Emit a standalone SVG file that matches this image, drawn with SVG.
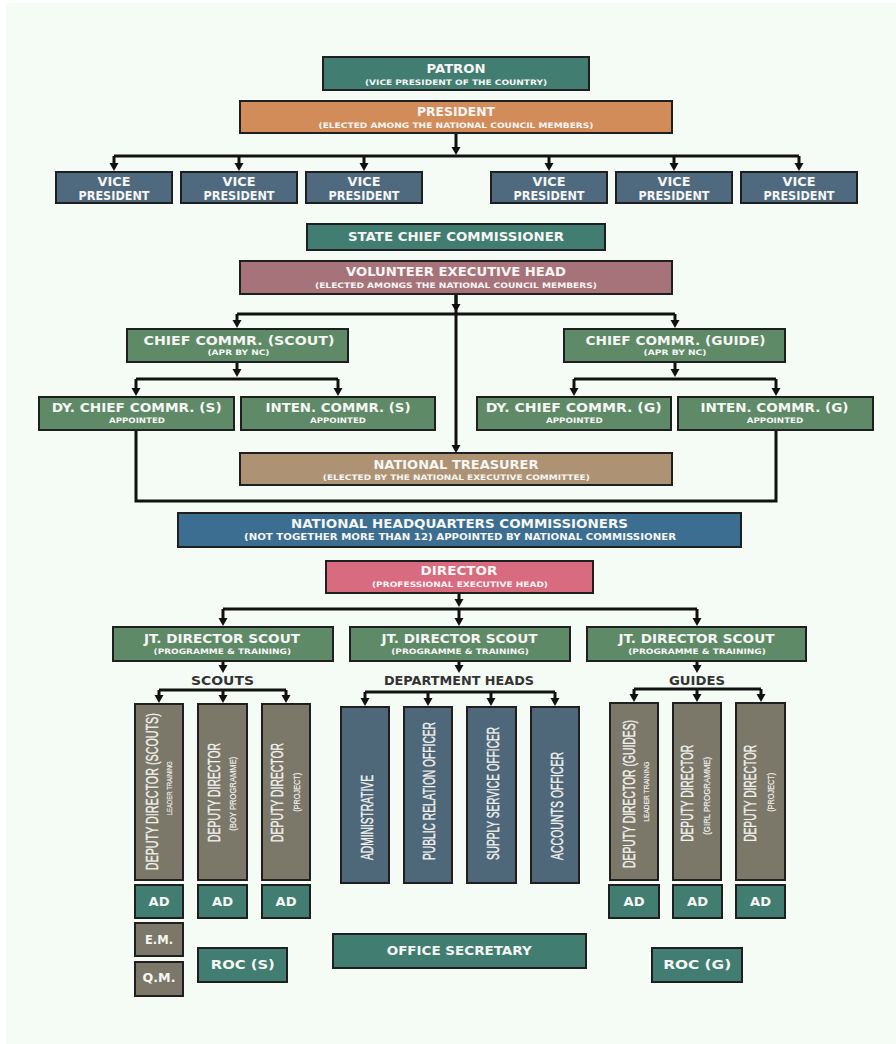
<svg xmlns="http://www.w3.org/2000/svg" width="896" height="1044" viewBox="0 0 896 1044">
<style>
.bx{stroke:#1f1f1f;stroke-width:2}
.teal{fill:#417e71}.orange{fill:#d18c5a}.slate{fill:#4f6a7f}.rose{fill:#a7737a}.green{fill:#5f8a67}.tan{fill:#ad9373}.blue{fill:#3b6e90}.pink{fill:#d86b7f}.gray{fill:#7b7869}.dept{fill:#4e6779}
.t{font-family:"DejaVu Sans","Liberation Sans",sans-serif;font-weight:bold;fill:#f6f6f4;text-anchor:middle}
.h{font-size:12px}.s{font-size:7.5px}.lb{font-family:"DejaVu Sans","Liberation Sans",sans-serif;font-weight:bold;font-size:13px;fill:#333;text-anchor:middle}
.v{font-family:"Liberation Sans Narrow","Liberation Sans",sans-serif;fill:#f2f2ee;text-anchor:middle}
.vm{font-size:17px;stroke:#f2f2ee;stroke-width:0.35px}.vs{font-size:8.5px;stroke:#f2f2ee;stroke-width:0.15px}
.c{fill:none;stroke:#111;stroke-width:3}
.a{fill:none;stroke:#111;stroke-width:3;marker-end:url(#ah)}
</style>
<defs>
<marker id="ah" viewBox="0 0 10 10" refX="1" refY="5" markerWidth="10" markerHeight="10" markerUnits="userSpaceOnUse" orient="auto">
<path d="M0,0.5 L8,5 L0,9.5 z" fill="#111"/>
</marker>
</defs>
<rect x="0" y="0" width="896" height="1044" fill="#ffffff"/>
<rect x="6" y="3" width="890" height="1041" fill="#f5fcf6"/>

<g id="connectors">
<path class="a" d="M456,133 V148"/>
<path class="c" d="M114,156 H799"/>
<path class="a" d="M114,156 V164"/><path class="a" d="M239,156 V164"/><path class="a" d="M364,156 V164"/>
<path class="a" d="M549,156 V164"/><path class="a" d="M674,156 V164"/><path class="a" d="M799,156 V164"/>
<path class="a" d="M456,294 V446"/>
<path class="a" d="M456,294 V305"/>
<path class="c" d="M237,314 H675"/>
<path class="a" d="M237,314 V321"/><path class="a" d="M675,314 V321"/>
<path class="a" d="M237,362 V370"/>
<path class="c" d="M136,379 H338"/>
<path class="a" d="M136,379 V389"/><path class="a" d="M338,379 V389"/>
<path class="a" d="M675,362 V370"/>
<path class="c" d="M574,379 H776"/>
<path class="a" d="M574,379 V389"/><path class="a" d="M776,379 V389"/>
<path class="c" d="M136,430 V501 H776 V430"/>
<path class="a" d="M459,593 V600"/>
<path class="c" d="M223,609 H697"/>
<path class="a" d="M223,609 V619"/><path class="a" d="M459,609 V619"/><path class="a" d="M697,609 V619"/>
<path class="a" d="M223,661 V666"/>
<path class="c" d="M159,690 H286"/>
<path class="a" d="M159,690 V696"/><path class="a" d="M223,690 V696"/><path class="a" d="M286,690 V696"/>
<path class="a" d="M459,661 V666"/>
<path class="c" d="M365,692 H555"/>
<path class="a" d="M365,692 V699"/><path class="a" d="M428,692 V699"/><path class="a" d="M491,692 V699"/><path class="a" d="M555,692 V699"/>
<path class="a" d="M697,661 V666"/>
<path class="c" d="M634,689 H761"/>
<path class="a" d="M634,689 V695"/><path class="a" d="M697,689 V695"/><path class="a" d="M761,689 V695"/>
</g>

<g id="patron"><rect class="bx teal" x="323" y="57" width="266" height="33"/>
<text class="t h" x="456" y="73.4" textLength="59" lengthAdjust="spacingAndGlyphs">PATRON</text>
<text class="t s" x="456" y="85" textLength="182" lengthAdjust="spacingAndGlyphs">(VICE PRESIDENT OF THE COUNTRY)</text></g>

<g id="president"><rect class="bx orange" x="240" y="101" width="432" height="32"/>
<text class="t h" x="456" y="116" textLength="78" lengthAdjust="spacingAndGlyphs">PRESIDENT</text>
<text class="t s" x="456" y="127.7" textLength="275" lengthAdjust="spacingAndGlyphs">(ELECTED AMONG THE NATIONAL COUNCIL MEMBERS)</text></g>

<g id="vp1"><rect class="bx slate" x="56" y="172" width="116" height="31"/>
<text class="t h" x="114" y="186" textLength="33" lengthAdjust="spacingAndGlyphs">VICE</text>
<text class="t h" x="114" y="199.7" textLength="71" lengthAdjust="spacingAndGlyphs">PRESIDENT</text></g>
<g id="vp2"><rect class="bx slate" x="181" y="172" width="116" height="31"/>
<text class="t h" x="239" y="186" textLength="33" lengthAdjust="spacingAndGlyphs">VICE</text>
<text class="t h" x="239" y="199.7" textLength="71" lengthAdjust="spacingAndGlyphs">PRESIDENT</text></g>
<g id="vp3"><rect class="bx slate" x="306" y="172" width="116" height="31"/>
<text class="t h" x="364" y="186" textLength="33" lengthAdjust="spacingAndGlyphs">VICE</text>
<text class="t h" x="364" y="199.7" textLength="71" lengthAdjust="spacingAndGlyphs">PRESIDENT</text></g>
<g id="vp4"><rect class="bx slate" x="491" y="172" width="116" height="31"/>
<text class="t h" x="549" y="186" textLength="33" lengthAdjust="spacingAndGlyphs">VICE</text>
<text class="t h" x="549" y="199.7" textLength="71" lengthAdjust="spacingAndGlyphs">PRESIDENT</text></g>
<g id="vp5"><rect class="bx slate" x="616" y="172" width="116" height="31"/>
<text class="t h" x="674" y="186" textLength="33" lengthAdjust="spacingAndGlyphs">VICE</text>
<text class="t h" x="674" y="199.7" textLength="71" lengthAdjust="spacingAndGlyphs">PRESIDENT</text></g>
<g id="vp6"><rect class="bx slate" x="741" y="172" width="116" height="31"/>
<text class="t h" x="799" y="186" textLength="33" lengthAdjust="spacingAndGlyphs">VICE</text>
<text class="t h" x="799" y="199.7" textLength="71" lengthAdjust="spacingAndGlyphs">PRESIDENT</text></g>

<g id="state-chief"><rect class="bx teal" x="307" y="224" width="298" height="26"/>
<text class="t h" x="456" y="241.4" textLength="216" lengthAdjust="spacingAndGlyphs">STATE CHIEF COMMISSIONER</text></g>

<g id="volunteer"><rect class="bx rose" x="240" y="261" width="432" height="33"/>
<text class="t h" x="456" y="276.4" textLength="220" lengthAdjust="spacingAndGlyphs">VOLUNTEER EXECUTIVE HEAD</text>
<text class="t s" x="456" y="288.4" textLength="282" lengthAdjust="spacingAndGlyphs">(ELECTED AMONGS THE NATIONAL COUNCIL MEMBERS)</text></g>

<g id="chief-scout"><rect class="bx green" x="127" y="329" width="221" height="33"/>
<text class="t h" x="239" y="345.4" textLength="191" lengthAdjust="spacingAndGlyphs">CHIEF COMMR. (SCOUT)</text>
<text class="t s" x="238.5" y="355.4" textLength="62" lengthAdjust="spacingAndGlyphs">(APR BY NC)</text></g>
<g id="chief-guide"><rect class="bx green" x="564" y="329" width="221" height="33"/>
<text class="t h" x="675.5" y="345.4" textLength="180" lengthAdjust="spacingAndGlyphs">CHIEF COMMR. (GUIDE)</text>
<text class="t s" x="675" y="355.4" textLength="63" lengthAdjust="spacingAndGlyphs">(APR BY NC)</text></g>

<g id="dy-chief-s"><rect class="bx green" x="39" y="397" width="195" height="33"/>
<text class="t h" x="136.7" y="411.7" textLength="170" lengthAdjust="spacingAndGlyphs">DY. CHIEF COMMR. (S)</text>
<text class="t s" x="137" y="422.7" textLength="56" lengthAdjust="spacingAndGlyphs">APPOINTED</text></g>
<g id="inten-s"><rect class="bx green" x="241" y="397" width="194" height="33"/>
<text class="t h" x="338" y="411.7" textLength="145" lengthAdjust="spacingAndGlyphs">INTEN. COMMR. (S)</text>
<text class="t s" x="338" y="422.7" textLength="56" lengthAdjust="spacingAndGlyphs">APPOINTED</text></g>
<g id="dy-chief-g"><rect class="bx green" x="477" y="397" width="194" height="33"/>
<text class="t h" x="573.7" y="411.7" textLength="176" lengthAdjust="spacingAndGlyphs">DY. CHIEF COMMR. (G)</text>
<text class="t s" x="574.3" y="422.7" textLength="56.7" lengthAdjust="spacingAndGlyphs">APPOINTED</text></g>
<g id="inten-g"><rect class="bx green" x="678" y="397" width="195" height="33"/>
<text class="t h" x="774.5" y="411.7" textLength="148" lengthAdjust="spacingAndGlyphs">INTEN. COMMR. (G)</text>
<text class="t s" x="775" y="422.7" textLength="56.6" lengthAdjust="spacingAndGlyphs">APPOINTED</text></g>

<g id="treasurer"><rect class="bx tan" x="240" y="453" width="432" height="32"/>
<text class="t h" x="456" y="468.7" textLength="165" lengthAdjust="spacingAndGlyphs">NATIONAL TREASURER</text>
<text class="t s" x="456.3" y="480.4" textLength="267" lengthAdjust="spacingAndGlyphs">(ELECTED BY THE NATIONAL EXECUTIVE COMMITTEE)</text></g>

<g id="nhq"><rect class="bx blue" x="178" y="513" width="563" height="34"/>
<text class="t h" x="459.5" y="527.7" textLength="337" lengthAdjust="spacingAndGlyphs">NATIONAL HEADQUARTERS COMMISSIONERS</text>
<text class="t" style="font-size:9px" x="460" y="540" textLength="432" lengthAdjust="spacingAndGlyphs">(NOT TOGETHER MORE THAN 12) APPOINTED BY NATIONAL COMMISSIONER</text></g>

<g id="director"><rect class="bx pink" x="326" y="561" width="267" height="32"/>
<text class="t h" x="459" y="575.4" textLength="77" lengthAdjust="spacingAndGlyphs">DIRECTOR</text>
<text class="t s" x="460" y="587" textLength="176" lengthAdjust="spacingAndGlyphs">(PROFESSIONAL EXECUTIVE HEAD)</text></g>

<g id="jt1"><rect class="bx green" x="113" y="627" width="220" height="34"/>
<text class="t h" x="222" y="643.4" textLength="156" lengthAdjust="spacingAndGlyphs">JT. DIRECTOR SCOUT</text>
<text class="t s" x="222.3" y="654.4" textLength="137.5" lengthAdjust="spacingAndGlyphs">(PROGRAMME &amp; TRAINING)</text></g>
<g id="jt2"><rect class="bx green" x="350" y="627" width="220" height="34"/>
<text class="t h" x="459.5" y="643.4" textLength="156" lengthAdjust="spacingAndGlyphs">JT. DIRECTOR SCOUT</text>
<text class="t s" x="460" y="654.4" textLength="137.5" lengthAdjust="spacingAndGlyphs">(PROGRAMME &amp; TRAINING)</text></g>
<g id="jt3"><rect class="bx green" x="587" y="627" width="219" height="34"/>
<text class="t h" x="696.5" y="643.4" textLength="156" lengthAdjust="spacingAndGlyphs">JT. DIRECTOR SCOUT</text>
<text class="t s" x="697" y="654.4" textLength="137.5" lengthAdjust="spacingAndGlyphs">(PROGRAMME &amp; TRAINING)</text></g>

<g id="label-scouts"><text class="lb" x="222.5" y="685.4" textLength="63" lengthAdjust="spacingAndGlyphs">SCOUTS</text></g>
<g id="label-dept"><text class="lb" x="459" y="685.4" textLength="150" lengthAdjust="spacingAndGlyphs">DEPARTMENT HEADS</text></g>
<g id="label-guides"><text class="lb" x="697" y="685.4" textLength="56" lengthAdjust="spacingAndGlyphs">GUIDES</text></g>

<g id="dd-scouts-lt"><rect class="bx gray" x="135" y="704" width="48" height="176"/>
<text class="v vm" transform="translate(157.8,791.7) rotate(-90)" textLength="157" lengthAdjust="spacingAndGlyphs">DEPUTY DIRECTOR (SCOUTS)</text>
<text class="v vs" style="font-size:8px" transform="translate(172.2,788.3) rotate(-90)" textLength="54" lengthAdjust="spacingAndGlyphs">LEADER TRAINING</text></g>
<g id="dd-boy"><rect class="bx gray" x="198" y="704" width="49" height="176"/>
<text class="v vm" transform="translate(219.6,792.4) rotate(-90)" textLength="99" lengthAdjust="spacingAndGlyphs">DEPUTY DIRECTOR</text>
<text class="v vs" transform="translate(235.8,793.7) rotate(-90)" textLength="74" lengthAdjust="spacingAndGlyphs">(BOY PROGRAMME)</text></g>
<g id="dd-project-s"><rect class="bx gray" x="262" y="704" width="48" height="176"/>
<text class="v vm" transform="translate(283,792.4) rotate(-90)" textLength="99" lengthAdjust="spacingAndGlyphs">DEPUTY DIRECTOR</text>
<text class="v vs" transform="translate(299.8,792.3) rotate(-90)" textLength="39" lengthAdjust="spacingAndGlyphs">(PROJECT)</text></g>

<g id="administrative"><rect class="bx dept" x="341" y="707" width="48" height="176"/>
<text class="v vm" style="text-anchor:start" transform="translate(373.3,860) rotate(-90)" textLength="85" lengthAdjust="spacingAndGlyphs">ADMINISTRATIVE</text></g>
<g id="pro"><rect class="bx dept" x="404" y="707" width="48" height="176"/>
<text class="v vm" style="text-anchor:start" transform="translate(435.1,860) rotate(-90)" textLength="138" lengthAdjust="spacingAndGlyphs">PUBLIC RELATION OFFICER</text></g>
<g id="supply"><rect class="bx dept" x="467" y="707" width="49" height="176"/>
<text class="v vm" style="text-anchor:start" transform="translate(498.8,860) rotate(-90)" textLength="133" lengthAdjust="spacingAndGlyphs">SUPPLY SERVICE OFFICER</text></g>
<g id="accounts"><rect class="bx dept" x="531" y="707" width="48" height="176"/>
<text class="v vm" style="text-anchor:start" transform="translate(562.8,860) rotate(-90)" textLength="108" lengthAdjust="spacingAndGlyphs">ACCOUNTS OFFICER</text></g>

<g id="dd-guides-lt"><rect class="bx gray" x="610" y="703" width="48" height="177"/>
<text class="v vm" transform="translate(634.5,794) rotate(-90)" textLength="148" lengthAdjust="spacingAndGlyphs">DEPUTY DIRECTOR (GUIDES)</text>
<text class="v vs" style="font-size:8px" transform="translate(648.9,791.7) rotate(-90)" textLength="60" lengthAdjust="spacingAndGlyphs">LEADER TRAINING</text></g>
<g id="dd-girl"><rect class="bx gray" x="673" y="703" width="48" height="177"/>
<text class="v vm" transform="translate(693,793.3) rotate(-90)" textLength="97" lengthAdjust="spacingAndGlyphs">DEPUTY DIRECTOR</text>
<text class="v vs" transform="translate(710.4,795.8) rotate(-90)" textLength="78" lengthAdjust="spacingAndGlyphs">(GIRL PROGRAMME)</text></g>
<g id="dd-project-g"><rect class="bx gray" x="736" y="703" width="49" height="177"/>
<text class="v vm" transform="translate(756.3,793.3) rotate(-90)" textLength="97" lengthAdjust="spacingAndGlyphs">DEPUTY DIRECTOR</text>
<text class="v vs" transform="translate(774.1,792.3) rotate(-90)" textLength="39" lengthAdjust="spacingAndGlyphs">(PROJECT)</text></g>

<g id="ad-s1"><rect class="bx teal" x="135" y="885" width="48" height="33"/><text class="t h" x="159" y="906" textLength="21" lengthAdjust="spacingAndGlyphs">AD</text></g>
<g id="ad-s2"><rect class="bx teal" x="198" y="885" width="49" height="33"/><text class="t h" x="222.5" y="906" textLength="21" lengthAdjust="spacingAndGlyphs">AD</text></g>
<g id="ad-s3"><rect class="bx teal" x="262" y="885" width="48" height="33"/><text class="t h" x="286" y="906" textLength="21" lengthAdjust="spacingAndGlyphs">AD</text></g>
<g id="ad-g1"><rect class="bx teal" x="609" y="885" width="50" height="33"/><text class="t h" x="634" y="906" textLength="21" lengthAdjust="spacingAndGlyphs">AD</text></g>
<g id="ad-g2"><rect class="bx teal" x="673" y="885" width="49" height="33"/><text class="t h" x="697.5" y="906" textLength="21" lengthAdjust="spacingAndGlyphs">AD</text></g>
<g id="ad-g3"><rect class="bx teal" x="736" y="885" width="49" height="33"/><text class="t h" x="760.5" y="906" textLength="21" lengthAdjust="spacingAndGlyphs">AD</text></g>

<g id="em"><rect class="bx gray" x="135" y="923" width="48" height="33"/><text class="t h" x="159" y="943.7" textLength="28" lengthAdjust="spacingAndGlyphs">E.M.</text></g>
<g id="qm"><rect class="bx gray" x="135" y="962" width="48" height="34"/><text class="t h" x="159" y="982.4" textLength="33" lengthAdjust="spacingAndGlyphs">Q.M.</text></g>
<g id="roc-s"><rect class="bx teal" x="198" y="948" width="89" height="34"/><text class="t h" x="242.8" y="969.4" textLength="64" lengthAdjust="spacingAndGlyphs">ROC (S)</text></g>
<g id="office-secretary"><rect class="bx teal" x="333" y="934" width="253" height="34"/><text class="t h" x="459.2" y="955" textLength="145" lengthAdjust="spacingAndGlyphs">OFFICE SECRETARY</text></g>
<g id="roc-g"><rect class="bx teal" x="652" y="948" width="90" height="34"/><text class="t h" x="697.2" y="969.4" textLength="68" lengthAdjust="spacingAndGlyphs">ROC (G)</text></g>
</svg>
